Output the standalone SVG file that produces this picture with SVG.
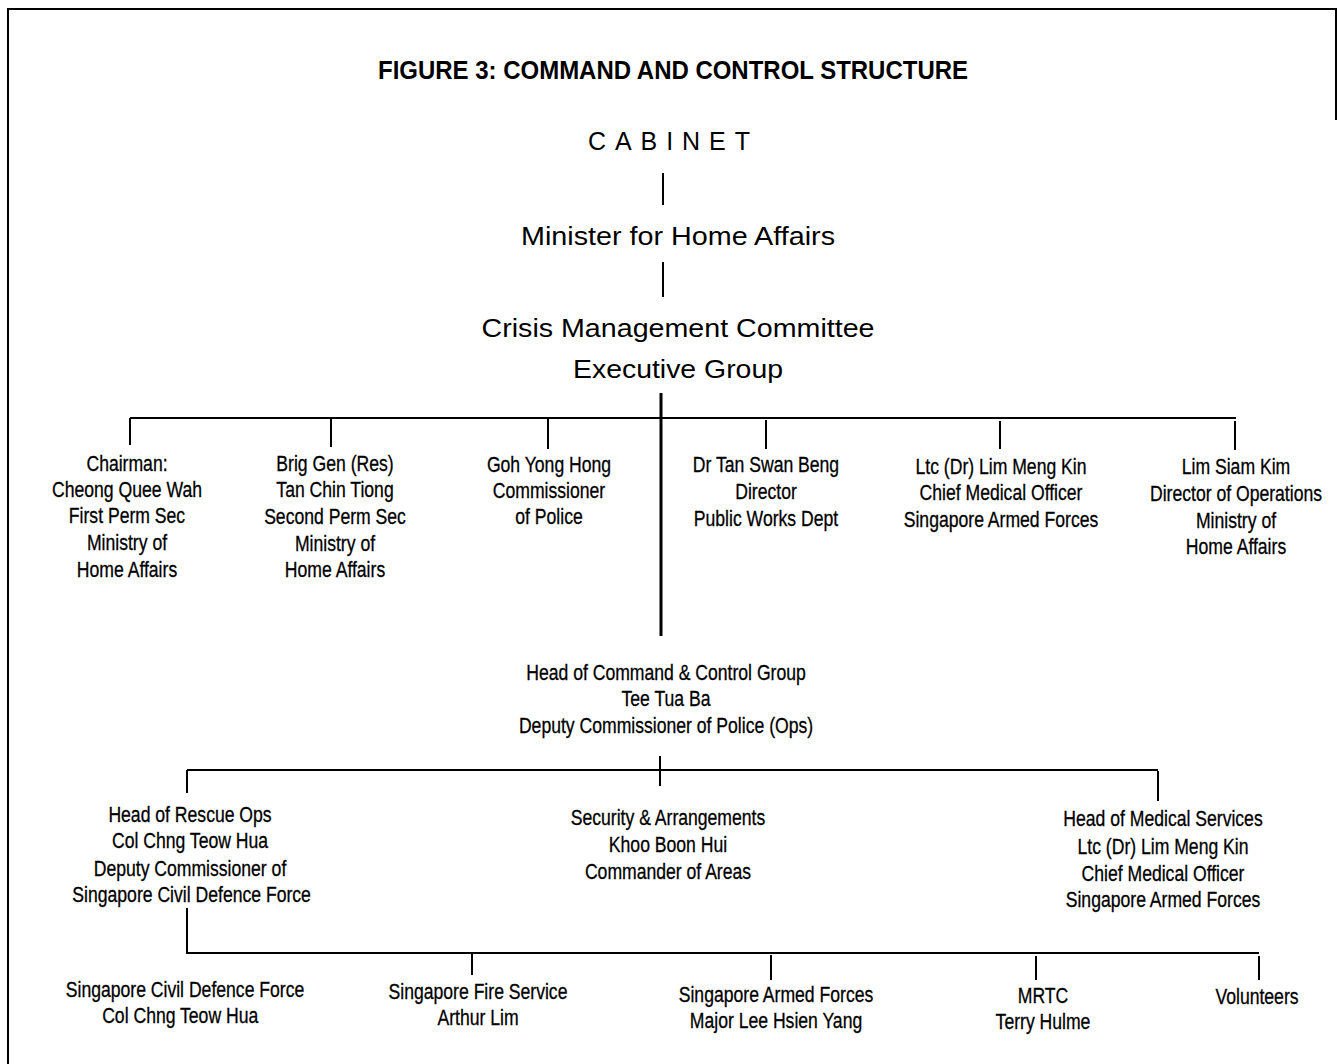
<svg xmlns="http://www.w3.org/2000/svg" width="1337" height="1064" viewBox="0 0 1337 1064">
<style>
.t{font-family:"Liberation Sans",Arial,sans-serif;font-size:22px;fill:#000;stroke:#000;stroke-width:0.3;text-anchor:middle}
.h{font-family:"Liberation Sans",Arial,sans-serif;font-size:25px;fill:#000;text-anchor:middle}
.ttl{font-family:"Liberation Sans",Arial,sans-serif;font-size:25px;font-weight:bold;fill:#000;text-anchor:middle}
.l{stroke:#000;stroke-width:2;fill:none}
.lt{stroke:#000;stroke-width:3;fill:none}
</style>
<rect width="1337" height="1064" fill="#fff"/>
<g id="frame">
<path class="l" d="M8 1064 V9 H1336 V120"/>
</g>
<text class="ttl" x="673" y="79" textLength="590" lengthAdjust="spacingAndGlyphs">FIGURE 3: COMMAND AND CONTROL STRUCTURE</text>
<g id="connectors">
<path class="l" d="M663 173 V205"/>
<path class="l" d="M663 262 V297"/>
<path class="lt" d="M661 393 V636"/>
<path class="l" d="M130 418 H1236"/>
<path class="l" d="M130 418 V445 M331 418 V447 M548 419 V449 M766 420 V449 M1000 421 V449 M1235 421 V450"/>
<path class="l" d="M187 770 H1158"/>
<path class="l" d="M660 756 V786 M187 770 V793 M1158 771 V801"/>
<path class="l" d="M187 908 V953 H1259"/>
<path class="l" d="M472 954 V975 M771 955 V980 M1036 956 V980 M1259 956 V980"/>
</g>
<g id="cabinet"><text class="h" x="669" y="150" font-size="27" textLength="162" lengthAdjust="spacing">CABINET</text></g>
<g id="minister"><text class="h" x="678" y="245" textLength="314" lengthAdjust="spacingAndGlyphs">Minister for Home Affairs</text></g>
<g id="cmc">
<text class="h" x="678" y="337" textLength="393" lengthAdjust="spacingAndGlyphs">Crisis Management Committee</text>
<text class="h" x="678" y="378" textLength="210" lengthAdjust="spacingAndGlyphs">Executive Group</text>
</g>
<g id="chairman" transform="translate(127 0) scale(0.8 1)">
<text class="t" x="0" y="471">Chairman:</text>
<text class="t" x="0" y="497">Cheong Quee Wah</text>
<text class="t" x="0" y="523">First Perm Sec</text>
<text class="t" x="0" y="550">Ministry of</text>
<text class="t" x="0" y="577">Home Affairs</text>
</g>
<g id="brig-gen" transform="translate(335 0) scale(0.8 1)">
<text class="t" x="0" y="471">Brig Gen (Res)</text>
<text class="t" x="0" y="497">Tan Chin Tiong</text>
<text class="t" x="0" y="524">Second Perm Sec</text>
<text class="t" x="0" y="551">Ministry of</text>
<text class="t" x="0" y="577">Home Affairs</text>
</g>
<g id="commissioner" transform="translate(549 0) scale(0.8 1)">
<text class="t" x="0" y="472">Goh Yong Hong</text>
<text class="t" x="0" y="498">Commissioner</text>
<text class="t" x="0" y="524">of Police</text>
</g>
<g id="pwd" transform="translate(766 0) scale(0.8 1)">
<text class="t" x="0" y="472">Dr Tan Swan Beng</text>
<text class="t" x="0" y="499">Director</text>
<text class="t" x="0" y="526">Public Works Dept</text>
</g>
<g id="cmo" transform="translate(1001 0) scale(0.8 1)">
<text class="t" x="0" y="474">Ltc (Dr) Lim Meng Kin</text>
<text class="t" x="0" y="500">Chief Medical Officer</text>
<text class="t" x="0" y="527">Singapore Armed Forces</text>
</g>
<g id="director-ops" transform="translate(1236 0) scale(0.8 1)">
<text class="t" x="0" y="474">Lim Siam Kim</text>
<text class="t" x="0" y="501">Director of Operations</text>
<text class="t" x="0" y="528">Ministry of</text>
<text class="t" x="0" y="554">Home Affairs</text>
</g>
<g id="command-control" transform="translate(666 0) scale(0.8 1)">
<text class="t" x="0" y="680">Head of Command &amp; Control Group</text>
<text class="t" x="0" y="706">Tee Tua Ba</text>
<text class="t" x="0" y="733">Deputy Commissioner of Police (Ops)</text>
</g>
<g id="rescue" transform="translate(190 0) scale(0.8 1)">
<text class="t" x="0" y="822">Head of Rescue Ops</text>
<text class="t" x="0" y="848">Col Chng Teow Hua</text>
<text class="t" x="0" y="876">Deputy Commissioner of</text>
<text class="t" x="2" y="902">Singapore Civil Defence Force</text>
</g>
<g id="security" transform="translate(668 0) scale(0.8 1)">
<text class="t" x="0" y="825">Security &amp; Arrangements</text>
<text class="t" x="0" y="852">Khoo Boon Hui</text>
<text class="t" x="0" y="879">Commander of Areas</text>
</g>
<g id="medical" transform="translate(1163 0) scale(0.8 1)">
<text class="t" x="0" y="826">Head of Medical Services</text>
<text class="t" x="0" y="854">Ltc (Dr) Lim Meng Kin</text>
<text class="t" x="0" y="881">Chief Medical Officer</text>
<text class="t" x="0" y="907">Singapore Armed Forces</text>
</g>
<g id="scdf" transform="translate(185 0) scale(0.8 1)">
<text class="t" x="0" y="997">Singapore Civil Defence Force</text>
<text class="t" x="-6" y="1023">Col Chng Teow Hua</text>
</g>
<g id="fire" transform="translate(478 0) scale(0.8 1)">
<text class="t" x="0" y="999">Singapore Fire Service</text>
<text class="t" x="0" y="1025">Arthur Lim</text>
</g>
<g id="saf" transform="translate(776 0) scale(0.8 1)">
<text class="t" x="0" y="1002">Singapore Armed Forces</text>
<text class="t" x="0" y="1028">Major Lee Hsien Yang</text>
</g>
<g id="mrtc" transform="translate(1043 0) scale(0.8 1)">
<text class="t" x="0" y="1003">MRTC</text>
<text class="t" x="0" y="1029">Terry Hulme</text>
</g>
<g id="volunteers" transform="translate(1257 0) scale(0.8 1)">
<text class="t" x="0" y="1004">Volunteers</text>
</g>
</svg>
